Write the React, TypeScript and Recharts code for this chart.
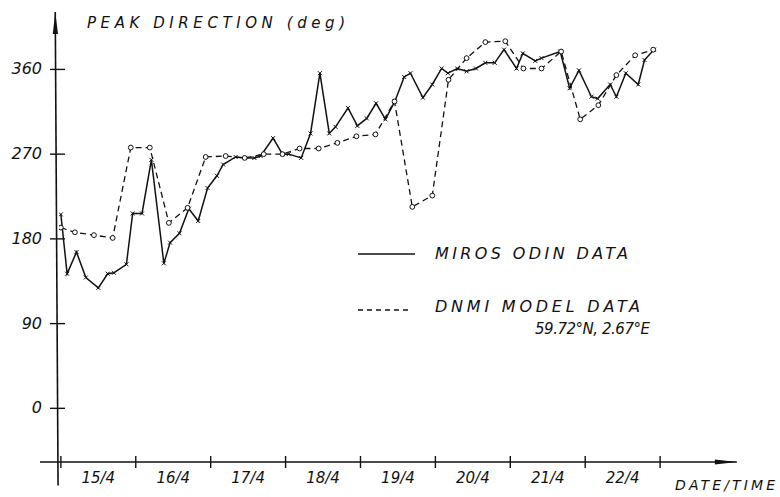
import React from 'react'
import { LineChart, Line, XAxis, YAxis, ReferenceLine } from 'recharts'

// hours since 15/4 00:00
const mirosHours = [0, 2, 5, 8, 12, 15, 17, 21, 23, 26, 29, 33, 35, 38, 41, 44, 47, 50, 52, 56, 59, 62, 64, 68, 71, 73, 77, 80, 83, 86, 88, 92, 95, 98, 101, 104, 107, 110, 112, 116, 119, 122, 124, 127, 130, 133, 136, 139, 142, 146, 148, 152, 154, 160, 163, 166, 170, 172, 176, 178, 181, 185, 187, 190]
const mirosDir = [206, 143, 166, 139, 128, 143, 144, 153, 207, 207, 264, 154, 176, 186, 212, 199, 234, 247, 259, 267, 266, 266, 268, 287, 270, 270, 266, 292, 356, 292, 299, 319, 300, 308, 324, 307, 326, 352, 356, 330, 344, 361, 356, 361, 358, 361, 367, 367, 381, 361, 377, 369, 372, 379, 340, 359, 331, 329, 344, 331, 356, 344, 370, 381]

const dnmiHours = [0, 4.5, 10.6, 16.6, 22.4, 28.5, 34.6, 40.6, 46.4, 52.8, 58.9, 65, 71, 76.5, 82.6, 88.6, 94.7, 100.8, 106.9, 112.6, 119, 124.2, 130, 136, 142.4, 148.2, 154, 160.3, 166.4, 172.2, 178, 184, 189.8]
const dnmiDir = [192, 187, 184, 181, 277, 277, 197, 213, 267, 268, 266, 270, 270, 276, 276, 282, 289, 291, 326, 214, 226, 349, 372, 389, 390, 361, 361, 379, 307, 322, 354, 375, 381]

const seriesNames = ['MIROS ODIN DATA', 'DNMI MODEL DATA']
const dayLabels = ['15/4', '16/4', '17/4', '18/4', '19/4', '20/4', '21/4', '22/4']
const dayTicks = [0, 24, 48, 72, 96, 120, 144, 168, 192]
const labelTicks = [12, 36, 60, 84, 108, 132, 156, 180]
const dirTicks = [0, 90, 180, 270, 360]

const mirosData = mirosHours.map((t, i) => ({ t, dir: mirosDir[i] }))
const dnmiData = dnmiHours.map((t, i) => ({ t, dir: dnmiDir[i] }))

const ink = '#111'
const hand = '"DejaVu Sans", sans-serif'

const Arrow = (props: any) => {
  const { x1, y1, x2, y2 } = props
  const len = Math.hypot(x2 - x1, y2 - y1)
  const ux = (x2 - x1) / len
  const uy = (y2 - y1) / len
  const bx = x2 - ux * 22
  const by = y2 - uy * 22
  const px = -uy * 2.6
  const py = ux * 2.6
  return (
    <g>
      <line x1={x1} y1={y1} x2={x2} y2={y2} stroke={ink} strokeWidth={1.6} />
      <polygon points={`${x2},${y2} ${bx + px},${by + py} ${bx - px},${by - py}`} fill={ink} />
    </g>
  )
}

const DateTick = ({ x, y, payload }: any) => {
  const v = payload.value
  if (v % 24 === 0) {
    return <line x1={x} y1={y - 6} x2={x} y2={y + 6} stroke={ink} strokeWidth={1.4} />
  }
  return (
    <text x={x} y={y + 21} textAnchor="middle" fontFamily={hand} fontStyle="italic" fontSize={15} fill={ink}>
      {dayLabels[Math.floor(v / 24)]}
    </text>
  )
}

const DirTick = ({ x, y, payload }: any) => (
  <g>
    <line x1={x - 9} y1={y} x2={x + 6} y2={y} stroke={ink} strokeWidth={1.4} />
    <text x={x - 17} y={y + 5} textAnchor="end" fontFamily={hand} fontStyle="italic" fontSize={16} fill={ink}>
      {payload.value}
    </text>
  </g>
)

const CrossDot = ({ cx, cy }: any) => (
  <path d={`M${cx - 2},${cy - 2}L${cx + 2},${cy + 2}M${cx - 2},${cy + 2}L${cx + 2},${cy - 2}`} stroke={ink} strokeWidth={1} />
)

const CircleDot = ({ cx, cy }: any) => (
  <circle cx={cx} cy={cy} r={2.4} fill="#fff" stroke={ink} strokeWidth={1} />
)

const textStyle = { fontFamily: hand, fontStyle: 'italic', fill: ink } as const

export default function App() {
  return (
    <div style={{ position: 'fixed', left: 0, top: 0, width: 780, height: 497, background: '#fff' }}>
      <LineChart width={780} height={497} margin={{ top: 12, right: 40, bottom: 5, left: 14 }}>
        <XAxis
          type="number"
          dataKey="t"
          domain={[-0.6, 217.6]}
          allowDataOverflow
          ticks={[...dayTicks, ...labelTicks]}
          interval={0}
          tick={<DateTick />}
          tickLine={false}
          tickSize={0}
          tickMargin={0}
          axisLine={false}
          height={30}
        />
        <YAxis
          type="number"
          domain={[-57, 421]}
          allowDataOverflow
          ticks={dirTicks}
          interval={0}
          tick={<DirTick />}
          tickLine={false}
          tickSize={0}
          tickMargin={0}
          axisLine={false}
          width={45}
        />
        <ReferenceLine segment={[{ x: -6.7, y: -57 }, { x: 216.6, y: -57 }]} ifOverflow="visible" shape={Arrow} />
        <ReferenceLine segment={[{ x: -0.9, y: -82 }, { x: -1.8, y: 421 }]} ifOverflow="visible" shape={Arrow} />
        <Line
          data={mirosData}
          dataKey="dir"
          name={seriesNames[0]}
          type="linear"
          stroke={ink}
          strokeWidth={1.5}
          dot={<CrossDot />}
          activeDot={false}
          isAnimationActive={false}
        />
        <Line
          data={dnmiData}
          dataKey="dir"
          name={seriesNames[1]}
          type="linear"
          stroke={ink}
          strokeWidth={1.3}
          strokeDasharray="6 4"
          dot={<CircleDot />}
          activeDot={false}
          isAnimationActive={false}
        />
      </LineChart>
      <svg width={780} height={497} style={{ position: 'absolute', left: 0, top: 0, pointerEvents: 'none' }}>
        <text x={87} y={28} fontSize={15} textLength={258} lengthAdjust="spacing" {...textStyle}>
          PEAK DIRECTION (deg)
        </text>
        <line x1={358} y1={254} x2={415} y2={254} stroke={ink} strokeWidth={1.4} />
        <text x={435} y={259} fontSize={16} textLength={193} lengthAdjust="spacing" {...textStyle}>
          {seriesNames[0]}
        </text>
        <line x1={358} y1={310} x2={410} y2={310} stroke={ink} strokeWidth={1.4} strokeDasharray="5 4" />
        <text x={435} y={312} fontSize={16} textLength={205} lengthAdjust="spacing" {...textStyle}>
          {seriesNames[1]}
        </text>
        <text x={535} y={334} fontSize={15} textLength={115} lengthAdjust="spacing" {...textStyle}>
          59.72°N, 2.67°E
        </text>
        <text x={675} y={490} fontSize={14} textLength={100} lengthAdjust="spacing" {...textStyle}>
          DATE/TIME
        </text>
      </svg>
    </div>
  )
}
